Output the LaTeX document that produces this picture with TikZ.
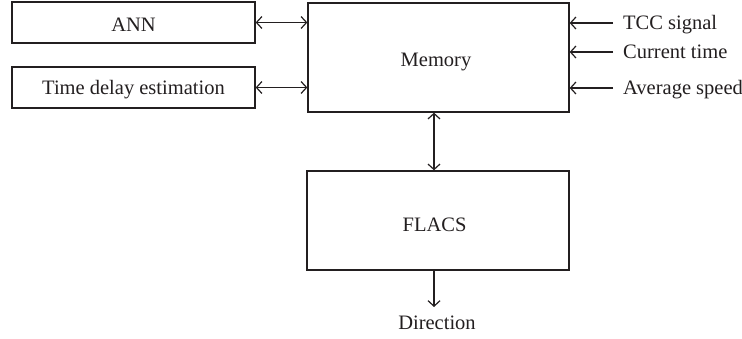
\documentclass[tikz,border=0pt]{standalone}
\usepackage{fontspec}
\setmainfont{Liberation Serif}
\usetikzlibrary{arrows.meta}
\definecolor{ink}{RGB}{35,31,32}
\begin{document}
\begin{tikzpicture}[x=1pt,y=-1pt,
  every node/.style={text=ink,font=\fontsize{20.5}{24}\selectfont},
  blockbox/.style={draw=ink,line width=1.3pt,inner sep=0pt,text height=18pt,text depth=0pt},
  conn/.style={draw=ink,line width=1.2pt,arrows={Straight Barb[length=5.5pt,width=12pt,line width=1.2pt]-Straight Barb[length=5.5pt,width=12pt,line width=1.2pt]}},
  onearrow/.style={draw=ink,line width=1.2pt,-{Straight Barb[length=5.5pt,width=12pt,line width=1.2pt]}},
  lbl/.style={anchor=west,inner xsep=10pt,inner ysep=0pt,text height=13.6pt,text depth=0pt}]
\useasboundingbox (0,0) rectangle (742,339);
\node[blockbox,minimum width=243pt,minimum height=41pt] (ann) at (133.5,22.5) {ANN};
\node[blockbox,minimum width=243pt,minimum height=41pt,text height=14pt] (tde) at (133.5,87.5) {Time delay estimation};
\node[blockbox,minimum width=261pt,minimum height=109pt] (mem) at (438.5,57.5) {Memory\kern5pt};
\node[blockbox,minimum width=262pt,minimum height=99pt,text height=22pt] (flacs) at (438,220.5) {FLACS\kern7pt};
\node[lbl] (tcc) at (613,23) {TCC signal};
\node[lbl] (cur) at (613,52) {Current time};
\node[lbl] (avg) at (613,88) {Average speed};
\coordinate (dirtop) at (434,307);
\node[anchor=base,inner sep=0pt] (dir) at (437,330) {Direction};
\draw[conn] (ann.east) -- (mem.west |- ann.east);
\draw[conn] (tde.east) -- (mem.west |- tde.east);
\draw[onearrow] (tcc.west) -- (mem.east |- tcc.west);
\draw[onearrow] (cur.west) -- (mem.east |- cur.west);
\draw[onearrow] (avg.west) -- (mem.east |- avg.west);
\draw[conn] ([xshift=-4.5pt]mem.south) -- ([xshift=-4pt]flacs.north);
\draw[onearrow] ([xshift=-4pt]flacs.south) -- (dirtop);
\end{tikzpicture}
\end{document}
